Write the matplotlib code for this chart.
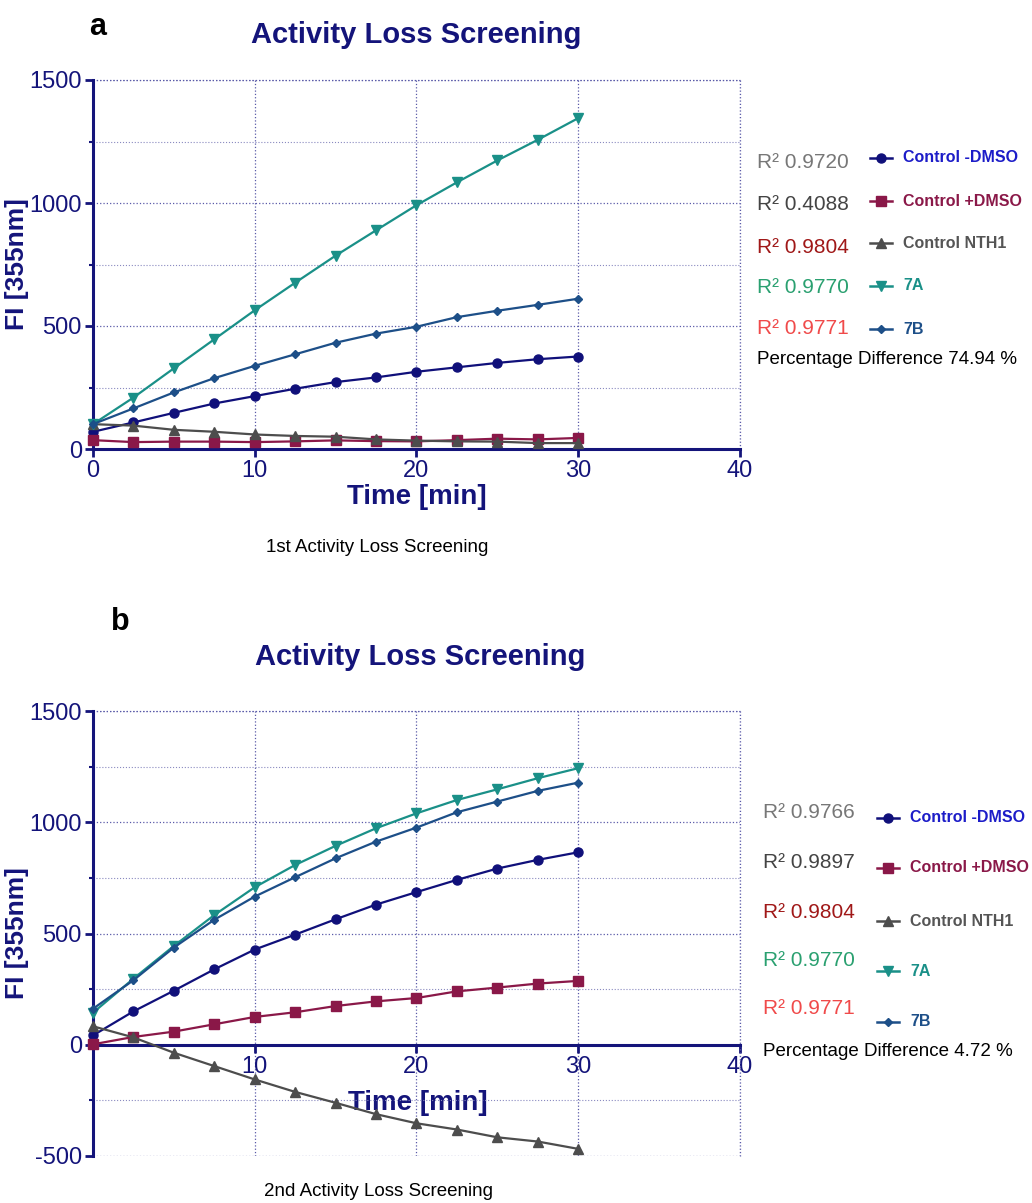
import matplotlib.pyplot as plt
from matplotlib.ticker import MultipleLocator, FixedLocator
from matplotlib.lines import Line2D

plt.rcParams['font.family'] = ['Liberation Sans', 'DejaVu Sans']
plt.rcParams['axes.unicode_minus'] = False

# sampling times [min]
time = [0, 2.5, 5, 7.5, 10, 12.5, 15, 17.5, 20, 22.5, 25, 27.5, 30]

# 1st screening
ctrl_minus_a = [70, 108, 147, 185, 215, 245, 272, 291, 314, 332, 350, 365, 376]
ctrl_plus_a = [36, 28, 30, 30, 28, 31, 35, 32, 31, 36, 42, 39, 45]
nth1_a = [101, 95, 78, 70, 59, 53, 50, 39, 34, 31, 30, 24, 24]
s7a_a = [101, 209, 328, 446, 564, 676, 786, 889, 991, 1084, 1173, 1257, 1345]
s7b_a = [101, 165, 230, 288, 338, 385, 432, 469, 497, 536, 562, 586, 611]

# 2nd screening
ctrl_minus_b = [42, 150, 243, 339, 428, 495, 564, 630, 686, 741, 792, 831, 865]
ctrl_plus_b = [2, 35, 59, 92, 125, 146, 174, 195, 210, 240, 257, 275, 287]
nth1_b = [83, 33, -36, -96, -156, -212, -261, -312, -353, -381, -416, -435, -468]
s7a_b = [144, 297, 444, 583, 708, 808, 894, 973, 1040, 1100, 1148, 1198, 1243]
s7b_b = [162, 290, 437, 562, 666, 753, 838, 913, 976, 1045, 1093, 1141, 1178]

labels = ['Control -DMSO', 'Control +DMSO', 'Control NTH1', '7A', '7B']
r2_a = ['0.9720', '0.4088', '0.9804', '0.9770', '0.9771']
r2_b = ['0.9766', '0.9897', '0.9804', '0.9770', '0.9771']
pct_a = '74.94'
pct_b = '4.72'

line_colors = ['#10107a', '#8a1848', '#4d4d4d', '#1a9088', '#1d4f88']
label_colors = ['#1c1cc8', '#8a1848', '#555555', '#1a9088', '#1d4f88']
r2_colors = ['#777777', '#444444', '#a01818', '#2aa070', '#f04a4a']
markers = ['o', 's', '^', 'v', 'D']
msizes = [6.5, 6.5, 6.5, 6.5, 4.5]
navy = '#14147a'

W, H = 1032, 1203


def fx(px):
    return px / W


def fy(py):
    return 1 - py / H


def draw_panel(ax, series, ymin):
    for ys, c, m, ms in zip(series, line_colors, markers, msizes):
        ax.plot(time, ys, color=c, marker=m, markersize=ms, lw=1.6, clip_on=False, zorder=3)
    ax.set_xlim(0, 40)
    ax.set_ylim(ymin, 1500)
    ax.xaxis.set_major_locator(MultipleLocator(10))
    ax.yaxis.set_major_locator(MultipleLocator(500))
    ax.yaxis.set_minor_locator(MultipleLocator(250))
    ax.grid(which='major', ls=':', color='#5a5aa8', lw=0.9)
    ax.grid(which='minor', axis='y', ls=':', color='#8a8ac0', lw=0.8)
    for s in ['top', 'right']:
        ax.spines[s].set_visible(False)
    for s in ['left', 'bottom']:
        ax.spines[s].set_color(navy)
        ax.spines[s].set_linewidth(2.2)
    ax.tick_params(which='major', length=6, width=2, color=navy, labelcolor=navy, labelsize=17,
                   pad=2)
    ax.tick_params(which='minor', length=3, width=1.5, color=navy)
    ax.set_ylabel('FI [355nm]', fontsize=19, fontweight='bold', color=navy, labelpad=0)
    ax.set_xlabel('Time [min]', fontsize=20, fontweight='bold', color=navy, labelpad=1)
    # top and right frame as dotted grid lines
    ax.axhline(1500, ls=':', color='#5a5aa8', lw=0.9, clip_on=False)
    ax.axvline(40, ls=':', color='#5a5aa8', lw=0.9, clip_on=False)


def draw_legend(fig, r2, pct, r2_x, r2_rows, leg_x, leg_rows, pct_y):
    for val, c, y in zip(r2, r2_colors, r2_rows):
        fig.text(fx(r2_x), fy(y), 'R\u00b2 ' + val, color=c, fontsize=15, va='center', ha='left')
    for lab, c, lc, m, ms, y in zip(labels, line_colors, label_colors, markers, msizes, leg_rows):
        fig.add_artist(Line2D([fx(leg_x), fx(leg_x + 22)], [fy(y), fy(y)], color=c, lw=1.8,
                              transform=fig.transFigure))
        fig.add_artist(Line2D([fx(leg_x + 11)], [fy(y)], color=c, marker=m, markersize=ms,
                              transform=fig.transFigure))
        fig.text(fx(leg_x + 33), fy(y), lab, color=lc, fontsize=11.5, fontweight='bold',
                 va='center', ha='left')
    fig.text(fx(r2_x), fy(pct_y), 'Percentage Difference ' + pct + ' %', color='black',
             fontsize=13.5, va='center', ha='left')


fig = plt.figure(figsize=(W / 100, H / 100), dpi=100)

# panel a
ax1 = fig.add_axes([fx(93), fy(449), fx(740) - fx(93), (449 - 80) / H])
draw_panel(ax1, [ctrl_minus_a, ctrl_plus_a, nth1_a, s7a_a, s7b_a], 0)
fig.text(fx(98), fy(27), 'a', fontsize=22, fontweight='bold', va='center', ha='center')
fig.text(fx(416), fy(35), 'Activity Loss Screening', fontsize=21, fontweight='bold',
         color=navy, va='center', ha='center')
fig.text(fx(377), fy(548), '1st Activity Loss Screening', fontsize=13.5, va='center', ha='center')
draw_legend(fig, r2_a, pct_a, 757, [162, 205, 247, 287, 328], 870,
            [158, 201, 243, 286, 329], 360)

# panel b
ax2 = fig.add_axes([fx(93), fy(1156), fx(740) - fx(93), (1156 - 711) / H])
draw_panel(ax2, [ctrl_minus_b, ctrl_plus_b, nth1_b, s7a_b, s7b_b], -500)
ax2.spines['bottom'].set_position(('data', 0))
ax2.xaxis.set_major_locator(FixedLocator([0, 10, 20, 30, 40]))
ax2.set_xticklabels(['', '10', '20', '30', '40'])
ax2.xaxis.set_label_coords(fx(418 - 93) / (fx(740) - fx(93)), (1156 - 1090) / (1156 - 711))
fig.text(fx(120), fy(622), 'b', fontsize=22, fontweight='bold', va='center', ha='center')
fig.text(fx(420), fy(657), 'Activity Loss Screening', fontsize=21, fontweight='bold',
         color=navy, va='center', ha='center')
fig.text(fx(379), fy(1192), '2nd Activity Loss Screening', fontsize=13.5, va='center', ha='center')
draw_legend(fig, r2_b, pct_b, 763, [812, 862, 912, 960, 1009], 877,
            [818, 868, 921, 971, 1022], 1052)

fig.savefig('out.png', dpi=100)
